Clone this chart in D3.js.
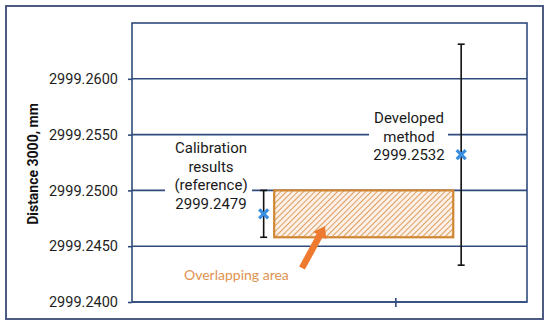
<!DOCTYPE html>
<html>
<head>
<meta charset="utf-8">
<script src="https://cdn.jsdelivr.net/npm/d3@7"></script>
<style>
  body { margin: 0; background: #fff; }
  text { font-family: Roboto, "Noto Sans", sans-serif; }
</style>
</head>
<body>
<svg id="chart"></svg>
<script>
// data
const groups = ["Calibration results (reference)", "Developed method"];
const xPos = [1, 2.5];
const means = [2999.2479, 2999.2532];
const errs = [0.0021, 0.0099];
const overlapX = [1.08, 2.44];
const overlapY = [2999.2458, 2999.2500];
const yTicks = [2999.24, 2999.245, 2999.25, 2999.255, 2999.26];
const xTicks = [2];
const labelLines = [
  ["Calibration", "results", "(reference)", "2999.2479"],
  ["Developed", "method", "2999.2532"]
];

const W = 550, H = 327;
const margin = { top: 23, right: 23, bottom: 25, left: 132 };
const width = W - margin.left - margin.right;
const height = H - margin.top - margin.bottom;

const root = d3.select("#chart").attr("width", W).attr("height", H);

// outer frame
root.append("rect")
  .attr("x", 6).attr("y", 6).attr("width", 537).attr("height", 313)
  .attr("fill", "#fff").attr("stroke", "#4b5b82").attr("stroke-width", 2);

const defs = root.append("defs");
const pat = defs.append("pattern")
  .attr("id", "hatch").attr("patternUnits", "userSpaceOnUse")
  .attr("width", 4).attr("height", 4)
  .attr("patternTransform", "rotate(45)");
pat.append("rect").attr("width", 4).attr("height", 4).attr("fill", "#fdf0e8");
pat.append("line").attr("x1", 0).attr("y1", 0).attr("x2", 0).attr("y2", 4)
  .attr("stroke", "#d58a3a").attr("stroke-width", 1.6);

const svg = root.append("g").attr("transform", `translate(${margin.left},${margin.top})`);

// scales
const x = d3.scaleLinear().domain([0, 3]).range([0, width]);
const y = d3.scaleLinear().domain([2999.24, 2999.265]).range([height, 0]);

const gridColor = "#2f4b7c";

// gridlines
svg.selectAll(".grid")
  .data(yTicks)
  .enter().append("line")
  .attr("x1", 0).attr("x2", width)
  .attr("y1", d => y(d)).attr("y2", d => y(d))
  .attr("stroke", gridColor).attr("stroke-width", 1.6);

// plot box
svg.append("rect")
  .attr("x", 0).attr("y", 0).attr("width", width).attr("height", height)
  .attr("fill", "none").attr("stroke", gridColor).attr("stroke-width", 1.6);

// y axis
const yAxis = svg.append("g")
  .call(d3.axisLeft(y).tickValues(yTicks).tickFormat(d3.format(".4f")).tickSize(4).tickPadding(10));
yAxis.select(".domain").remove();
yAxis.selectAll("line").attr("stroke", gridColor).attr("stroke-width", 1.6);
yAxis.selectAll("text").attr("font-size", 14.5).attr("fill", "#1e1e1e")
  .style("font-family", "Roboto, sans-serif");

// x axis (single tick)
const xAxis = svg.append("g")
  .attr("transform", `translate(0,${height - 4})`)
  .call(d3.axisBottom(x).tickValues(xTicks).tickFormat("").tickSize(9));
xAxis.select(".domain").remove();
xAxis.selectAll("line").attr("stroke", gridColor).attr("stroke-width", 1.6);

// y label
svg.append("text")
  .attr("transform", "rotate(-90)")
  .attr("x", -(164 - margin.top)).attr("y", 33 - margin.left + 5)
  .attr("text-anchor", "middle")
  .attr("font-size", 14).attr("font-weight", "bold").attr("fill", "#111")
  .text("Distance 3000, mm");

// overlapping area
svg.append("rect")
  .attr("x", x(overlapX[0])).attr("width", x(overlapX[1]) - x(overlapX[0]))
  .attr("y", y(overlapY[1])).attr("height", y(overlapY[0]) - y(overlapY[1]))
  .attr("fill", "url(#hatch)").attr("stroke", "#cf8733").attr("stroke-width", 2.2);

// label backgrounds + labels
const labelPos = [
  { cx: 211, top: 153, bg: [165, 138, 87, 76] },
  { cx: 409, top: 123, bg: [369, 108, 79, 58] }
];
labelLines.forEach((lines, i) => {
  const p = labelPos[i];
  root.append("rect")
    .attr("x", p.bg[0]).attr("y", p.bg[1]).attr("width", p.bg[2]).attr("height", p.bg[3])
    .attr("fill", "#fff");
  const t = root.append("text")
    .attr("text-anchor", "middle").attr("font-size", 15).attr("fill", "#1a1a1a");
  lines.forEach((l, j) => {
    t.append("tspan").attr("x", p.cx).attr("y", p.top + j * 18.7).text(l);
  });
});

// error bars
const eb = svg.selectAll(".eb").data(xPos).enter().append("g");
eb.append("line")
  .attr("x1", d => x(d)).attr("x2", d => x(d))
  .attr("y1", (d, i) => y(means[i] + errs[i])).attr("y2", (d, i) => y(means[i] - errs[i]))
  .attr("stroke", "#111").attr("stroke-width", 1.6);
[1, -1].forEach(s => {
  eb.append("line")
    .attr("x1", d => x(d) - 3.5).attr("x2", d => x(d) + 3.5)
    .attr("y1", (d, i) => y(means[i] + s * errs[i])).attr("y2", (d, i) => y(means[i] + s * errs[i]))
    .attr("stroke", "#111").attr("stroke-width", 1.6);
});

// markers (thick X)
const r = 4.5;
svg.selectAll(".mk").data(xPos).enter().append("path")
  .attr("d", `M${-r},${-r}L${r},${r}M${-r},${r}L${r},${-r}`)
  .attr("transform", (d, i) => `translate(${x(d)},${y(means[i])})`)
  .attr("fill", "none").attr("stroke", "#3a8ee0").attr("stroke-width", 3.2);

// arrow annotation
const arrowTail = [302, 268], arrowTip = [325, 226];
const ang = Math.atan2(arrowTip[1] - arrowTail[1], arrowTip[0] - arrowTail[0]);
const len = Math.hypot(arrowTip[0] - arrowTail[0], arrowTip[1] - arrowTail[1]);
root.append("path")
  .attr("d", `M0,-3.3 L${len - 11},-3.3 L${len - 11},-7.5 L${len},0 L${len - 11},7.5 L${len - 11},3.3 L0,3.3 Z`)
  .attr("transform", `translate(${arrowTail[0]},${arrowTail[1]}) rotate(${ang * 180 / Math.PI})`)
  .attr("fill", "#ed7a2e");

root.append("text")
  .attr("x", 184).attr("y", 280)
  .attr("font-size", 14).attr("fill", "#de9250")
  .style("font-family", "Lato, sans-serif")
  .text("Overlapping area");
</script>
</body>
</html>
